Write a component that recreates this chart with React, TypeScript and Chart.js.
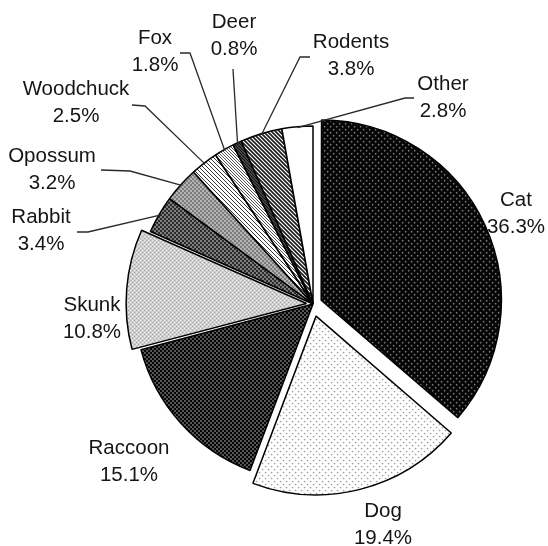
import React, { useEffect, useRef } from "react";
import { Chart, ArcElement, PieController } from "chart.js";

Chart.register(ArcElement, PieController);

// ---- data ----
const categories = ["Cat", "Dog", "Raccoon", "Skunk", "Rabbit", "Opossum", "Woodchuck", "Fox", "Deer", "Rodents", "Other"];
const percentages = [36.3, 19.4, 15.1, 10.8, 3.4, 3.2, 2.5, 1.8, 0.8, 3.8, 2.8];
const valueLabels = percentages.map((v) => v.toFixed(1) + "%");

// ---- label layout (offsets from pie centre, px) ----
type LabelLayout = { text: [number, number]; elbow?: [number, number]; tail?: [number, number] };
const labelLayout: LabelLayout[] = [
  { text: [203, -90] },
  { text: [70, 221] },
  { text: [-184, 158] },
  { text: [-221, 15] },
  { text: [-272, -73], elbow: [-225, -72], tail: [-236, -72] },
  { text: [-261, -134], elbow: [-183, -133], tail: [-212, -134] },
  { text: [-237, -201], elbow: [-168, -198], tail: [-181, -199] },
  { text: [-158, -252], elbow: [-123, -251], tail: [-133, -251] },
  { text: [-79, -268], elbow: [-80, -235] },
  { text: [38, -248], elbow: [-13, -247], tail: [-3, -247] },
  { text: [130, -206], elbow: [92, -206], tail: [101, -206] },
];
const sliceOffsets = [36, 50, 0, 26, 0, 0, 0, 0, 0, 0, 0];

function makePattern(size: number, draw: (g: CanvasRenderingContext2D, s: number) => void) {
  const c = document.createElement("canvas");
  c.width = size;
  c.height = size;
  const g = c.getContext("2d")!;
  draw(g, size);
  return g.createPattern(c, "repeat")!;
}

function dots(bg: string, fg: string, size: number, r: number) {
  return makePattern(size, (g, s) => {
    g.fillStyle = bg;
    g.fillRect(0, 0, s, s);
    g.fillStyle = fg;
    g.beginPath();
    g.arc(s / 4, s / 4, r, 0, Math.PI * 2);
    g.arc((3 * s) / 4, (3 * s) / 4, r, 0, Math.PI * 2);
    g.fill();
  });
}

function checker(a: string, b: string, cell: number) {
  return makePattern(cell * 2, (g, s) => {
    g.fillStyle = a;
    g.fillRect(0, 0, s, s);
    g.fillStyle = b;
    g.fillRect(0, 0, cell, cell);
    g.fillRect(cell, cell, cell, cell);
  });
}

function diag(bg: string, fg: string, size: number, lw: number) {
  return makePattern(size, (g, s) => {
    g.fillStyle = bg;
    g.fillRect(0, 0, s, s);
    g.strokeStyle = fg;
    g.lineWidth = lw;
    g.beginPath();
    for (const k of [-s, 0, s]) {
      g.moveTo(-1, k - 1);
      g.lineTo(s + 1, s + k + 1);
    }
    g.stroke();
  });
}

const labelPlugin = {
  id: "outerLabels",
  afterDatasetsDraw(chart: any) {
    const ctx: CanvasRenderingContext2D = chart.ctx;
    const meta = chart.getDatasetMeta(0);
    ctx.save();
    meta.data.forEach((arc: any, i: number) => {
      const cx = arc.x;
      const cy = arc.y;
      const lay = labelLayout[i];
      if (lay.elbow) {
        const mid = (arc.startAngle + arc.endAngle) / 2;
        const r = arc.outerRadius - 1;
        ctx.beginPath();
        ctx.strokeStyle = "#2a2a2a";
        ctx.lineWidth = 1.3;
        ctx.moveTo(cx + Math.cos(mid) * r, cy + Math.sin(mid) * r);
        ctx.lineTo(cx + lay.elbow[0], cy + lay.elbow[1]);
        if (lay.tail) ctx.lineTo(cx + lay.tail[0], cy + lay.tail[1]);
        ctx.stroke();
      }
      const tx = cx + lay.text[0];
      const ty = cy + lay.text[1];
      ctx.fillStyle = "#151515";
      ctx.font = "20.5px 'Liberation Sans', Arial, sans-serif";
      ctx.textAlign = "center";
      ctx.textBaseline = "middle";
      ctx.fillText(categories[i], tx, ty - 13.5);
      ctx.fillText(valueLabels[i], tx, ty + 13.5);
    });
    ctx.restore();
  },
};

export default function App() {
  const ref = useRef<HTMLCanvasElement | null>(null);
  useEffect(() => {
    if (!ref.current) return;
    const fills = [
      dots("#040404", "#c8c8c8", 6, 0.75),
      dots("#ffffff", "#8a8a8a", 6, 0.8),
      checker("#050505", "#555555", 2),
      checker("#f4f4f4", "#a8a8a8", 2),
      checker("#2a2a2a", "#7e7e7e", 2),
      checker("#7c7c7c", "#b4b4b4", 2),
      diag("#ffffff", "#3a3a3a", 4, 1),
      diag("#ffffff", "#555555", 3, 1),
      diag("#444444", "#111111", 3, 1),
      diag("#ffffff", "#1a1a1a", 4, 1.6),
      "#ffffff",
    ];
    const chart = new Chart(ref.current, {
      type: "pie",
      data: {
        labels: categories,
        datasets: [
          {
            data: percentages,
            backgroundColor: fills as any,
            borderColor: "#000000",
            borderWidth: 1.5,
            offset: sliceOffsets,
          },
        ],
      },
      plugins: [labelPlugin],
      options: {
        animation: false,
        responsive: true,
        maintainAspectRatio: false,
        radius: 178,
        layout: { padding: { left: 78, right: 0, top: 62, bottom: 0 } },
        plugins: { legend: { display: false }, tooltip: { enabled: false } },
        events: [],
      } as any,
    });
    return () => chart.destroy();
  }, []);
  return (
    <div style={{ position: "absolute", left: 0, top: 0, width: 548, height: 546, background: "#fff" }}>
      <canvas ref={ref} />
    </div>
  );
}
